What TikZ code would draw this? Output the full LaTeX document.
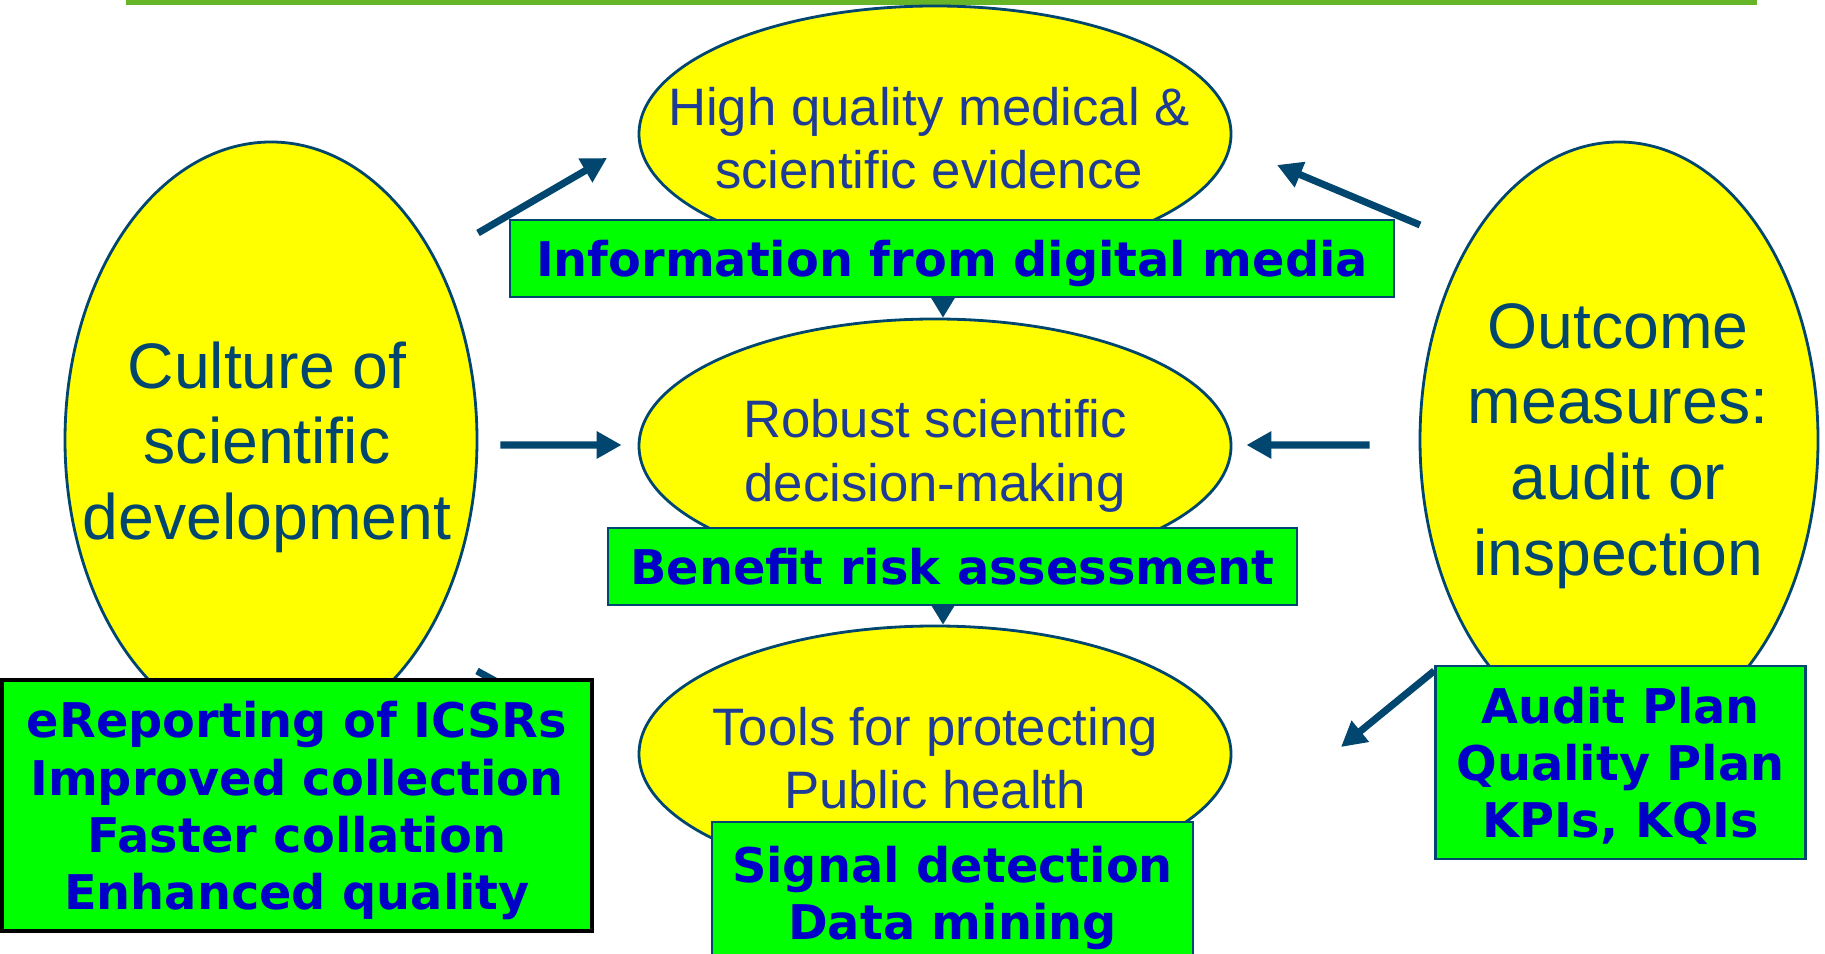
\documentclass[tikz,border=0pt]{standalone}
\usepackage{fontspec}
\setmainfont{Liberation Sans}
\newfontfamily\boxfont{DejaVu Sans}
\usepackage{xcolor}
\usepackage{tikz}
\usetikzlibrary{shapes.geometric, arrows.meta, positioning, calc}
\definecolor{bubblefill}{RGB}{255,255,0}
\definecolor{linkblue}{RGB}{0,70,110}
\definecolor{inkblue}{RGB}{30,60,150}
\definecolor{boxgreen}{RGB}{0,255,0}
\definecolor{boxtext}{RGB}{0,0,200}
\definecolor{rulegreen}{RGB}{102,180,40}
\tikzstyle{bubble} = [ellipse, draw=linkblue, line width=0.8pt, fill=bubblefill, inner sep=0pt]
\tikzstyle{midtext} = [text=inkblue, font=\fontsize{15}{18}\selectfont, align=center]
\tikzstyle{sidetext} = [text=linkblue, font=\fontsize{18.3}{21.5}\selectfont, align=center]
\tikzstyle{tag} = [rectangle, draw=linkblue, line width=0.7pt, fill=boxgreen, inner sep=0pt, text depth=0pt, text=boxtext, font=\boxfont\bfseries\fontsize{13.6}{16.3}\selectfont, align=center]
\tikzstyle{arrow} = [line width=2pt, draw=linkblue, -{Triangle[length=0.25cm, width=0.26cm]}]

\begin{document}
\begin{tikzpicture}
    \useasboundingbox (0,0) rectangle (18.25,-9.54);
    % Rule on top
    \fill[rulegreen] (1.26,0) rectangle (17.57,-0.05);

    % Ellipses
    \node[bubble, minimum width=5.92cm, minimum height=2.56cm] (evidence) at (9.35,-1.34) {};
    \node[bubble, minimum width=5.92cm, minimum height=2.54cm] (decision) at (9.35,-4.46) {};
    \node[bubble, minimum width=5.92cm, minimum height=2.56cm] (tools) at (9.35,-7.54) {};
    \node[bubble, minimum width=4.12cm, minimum height=5.96cm] (culture) at (2.71,-4.40) {};
    \node[bubble, minimum width=3.98cm, minimum height=5.96cm] (outcome) at (16.19,-4.40) {};

    \node[midtext] (evidencetxt) at (9.29,-1.38) {High quality medical \&\\scientific evidence};
    \node[midtext] (decisiontxt) at (9.35,-4.56) {Robust scientific\\decision-making};
    \node[midtext] (toolstxt) at (9.35,-7.58) {Tools for protecting\\Public health};
    \node[sidetext] (culturetxt) at (2.67,-4.47) {Culture of\\scientific\\development};
    \node[sidetext] (outcometxt) at (16.18,-4.46) {Outcome\\measures:\\audit or\\inspection};

    % Arrows
    \coordinate (a1s) at (4.78,-2.33);
    \coordinate (a1e) at (6.07,-1.58);
    \coordinate (a2s) at (14.20,-2.25);
    \coordinate (a2e) at (12.77,-1.65);
    \coordinate (a5e) at (13.41,-7.47);
    \coordinate (hid) at (5.30,-7.00);
    \draw[arrow] (a1s) -- (a1e);
    \draw[arrow] (a2s) -- (a2e);
    \draw[arrow, shorten <=0.22cm, shorten >=0.16cm] ([yshift=-0.05cm]culture.east) -- ([yshift=0.01cm]decision.west);
    \draw[arrow, shorten <=0.49cm, shorten >=0.14cm] ([yshift=-0.05cm]outcome.west) -- ([yshift=0.01cm]decision.east);
    \draw[line width=2pt, linkblue] (4.77,-6.71) -- (hid);

    % Green boxes
    \node[tag, minimum width=8.84cm, minimum height=0.77cm] (digital) at (9.52,-2.585) {Information from digital media};
    \node[tag, minimum width=6.89cm, minimum height=0.77cm] (benefit) at (9.525,-5.665) {Benefit risk assessment};
    \node[tag, draw=black, line width=1pt, minimum width=5.90cm, minimum height=2.51cm] (ereport) at (2.97,-8.055)
        {eReporting of ICSRs\\Improved collection\\Faster collation\\Enhanced quality};
    \node[tag, minimum width=4.81cm, minimum height=1.42cm] (signal) at (9.525,-8.93) {Signal detection\\Data mining};
    \node[tag, minimum width=3.70cm, minimum height=1.93cm] (audit) at (16.205,-7.625) {Audit Plan\\Quality Plan\\KPIs, KQIs};

    \draw[arrow, line width=1.2pt, -{Triangle[length=0.2cm, width=0.23cm]}] (digital.south -| evidence.south) ++(0.08,0) coordinate (d1) -- (d1 |- decision.north);
    \draw[arrow, line width=1.2pt, -{Triangle[length=0.19cm, width=0.22cm]}] (benefit.south -| tools.north) ++(0.08,0) coordinate (d2) -- (d2 |- tools.north);
    \draw[arrow] ([yshift=-0.06cm]audit.north west) -- (a5e);
\end{tikzpicture}
\end{document}
